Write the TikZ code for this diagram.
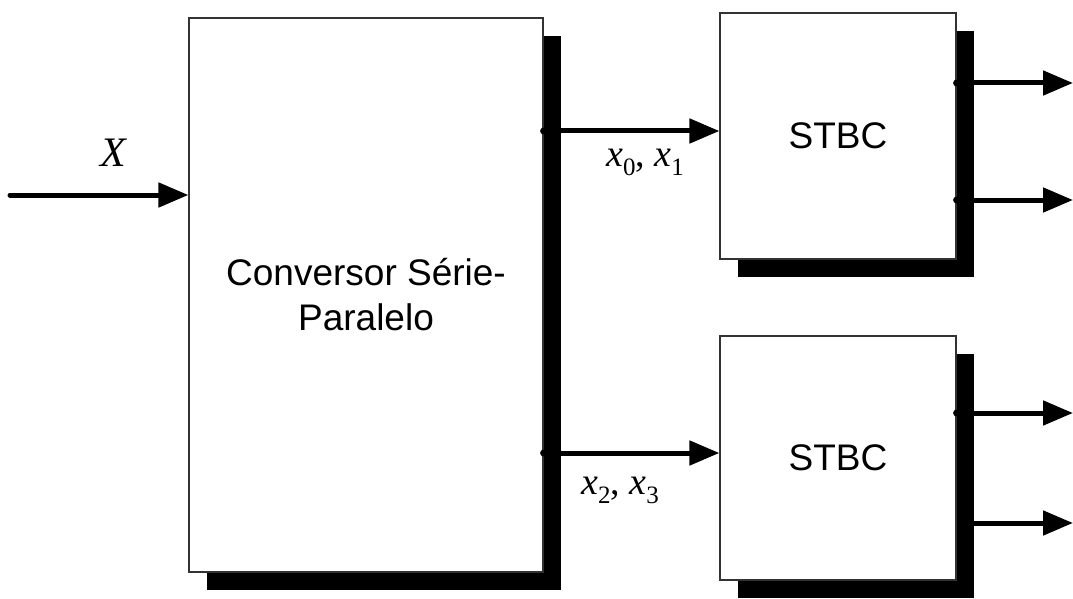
\documentclass[tikz,border=0pt]{standalone}
\usepackage{fontspec}
\setmainfont{Liberation Sans}
\newfontfamily\serifx{Liberation Serif}
\usetikzlibrary{arrows.meta,shadows,calc}
\tikzset{
  bloco/.style={draw=black!80,line width=1.2pt,fill=white,
    general shadow={fill=black,shadow xshift=18pt,shadow yshift=-18pt},
    font=\fontsize{37}{45}\selectfont,align=center},
  sinal/.style={line width=5pt,-{Triangle[length=30pt,width=24pt]}},
  rotulo/.style={font=\serifx\fontsize{38}{40}\selectfont},
}
\newcommand\ind[1]{\raisebox{-9pt}{\fontsize{25}{25}\selectfont #1}}
\begin{document}
\begin{tikzpicture}[x=1pt,y=-1pt]
  \useasboundingbox (0,0) rectangle (1073,599);
  % blocos
  \node[bloco,minimum width=354pt,minimum height=554pt] (conv) at (366,295)
    {Conversor S\'erie-\\Paralelo};
  \node[bloco,minimum width=236pt,minimum height=246pt] (s1) at (838,136) {STBC};
  \node[bloco,minimum width=236pt,minimum height=244pt] (s2) at (838,458) {STBC};
  % entrada
  \coordinate (in) at (10,195);
  \draw[sinal,line cap=round] (in) -- (in -| conv.west);
  \node[rotulo,font=\serifx\fontsize{42}{44}\selectfont] (X) at (113,153) {\itshape X};
  % saidas do conversor
  \coordinate (a1) at ([yshift=5pt]s1.west);
  \coordinate (a2) at ([yshift=5pt]s2.west);
  \draw[sinal] (a1 -| conv.east) -- (a1);
  \draw[sinal] (a2 -| conv.east) -- (a2);
  \fill (a1 -| conv.east) circle (3.5pt);
  \fill (a2 -| conv.east) circle (3.5pt);
  \node[rotulo] (l1) at (645,162) {{\itshape x}\ind{0}{, }{\itshape x}\ind{1}};
  \node[rotulo] (l2) at (620,490) {{\itshape x}\ind{2}{, }{\itshape x}\ind{3}};
  % saidas STBC
  \coordinate (o1) at (1073,83);
  \coordinate (o2) at (1073,200);
  \coordinate (o3) at (1073,413);
  \coordinate (o4) at (1073,523);
  \foreach \o/\s in {o1/s1,o2/s1,o3/s2,o4/s2}
    \draw[sinal] (\o -| \s.east) -- (\o);
  \fill (o1 -| s1.east) circle (3.5pt);
  \fill (o2 -| s1.east) circle (3.5pt);
  \fill (o3 -| s2.east) circle (3.5pt);
\end{tikzpicture}
\end{document}
